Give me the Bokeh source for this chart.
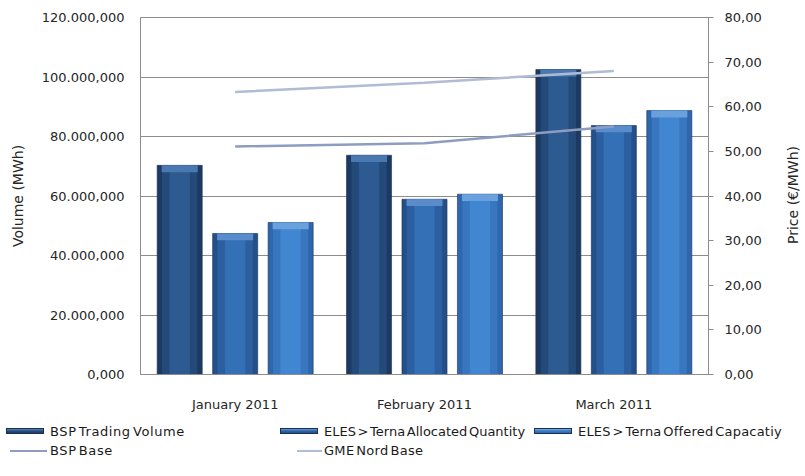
from bokeh.plotting import figure
from bokeh.layouts import column, row
from bokeh.models import (Range1d, LinearAxis, FixedTicker, ColumnDataSource,
                          FactorRange, Div)
from bokeh.transform import dodge
from bokeh.embed import file_html
from bokeh.resources import INLINE

# ---- data ----
months = ["January 2011", "February 2011", "March 2011"]
bsp_trading_volume = [70.3e6, 73.7e6, 102.5e6]
eles_allocated = [47.4e6, 58.9e6, 83.7e6]
eles_offered = [51.1e6, 60.6e6, 88.7e6]
bsp_base = [51.1, 51.8, 55.6]
gme_nord_base = [63.3, 65.4, 68.0]

vol_ticks = [0, 20e6, 40e6, 60e6, 80e6, 100e6, 120e6]
vol_tick_labels = ["0,000", "20.000,000", "40.000,000", "60.000,000",
                   "80.000,000", "100.000,000", "120.000,000"]
price_ticks = [0, 10, 20, 30, 40, 50, 60, 70, 80]
price_tick_labels = ["0,00", "10,00", "20,00", "30,00", "40,00",
                     "50,00", "60,00", "70,00", "80,00"]
series_names = ["BSP Trading Volume", "ELES > Terna Allocated Quantity",
                "ELES > Terna Offered Capacatiy", "BSP Base", "GME Nord Base"]
left_title = "Volume (MWh)"
right_title = "Price (€/MWh)"

FONT = "DejaVu Sans"
TXT = "#262626"
GRID = "#8c8c8c"

src = ColumnDataSource(dict(
    month=months, bsp=bsp_trading_volume, alloc=eles_allocated, offered=eles_offered,
    bsp_cap=[v - 2.3e6 for v in bsp_trading_volume],
    alloc_cap=[v - 2.3e6 for v in eles_allocated],
    offered_cap=[v - 2.3e6 for v in eles_offered],
    bspbase=bsp_base, gme=gme_nord_base,
))

p = figure(width=785, height=420, output_backend="svg", toolbar_location=None,
           x_range=FactorRange(*months, range_padding=0),
           y_range=Range1d(0, 120e6),
           min_border_left=140, min_border_right=77, min_border_top=17,
           min_border_bottom=46)
p.extra_y_ranges = {"price": Range1d(0, 80)}
p.outline_line_color = GRID
p.background_fill_color = "white"
p.border_fill_color = "white"

# grid
p.xgrid.grid_line_color = None
p.ygrid.grid_line_color = GRID
p.ygrid.ticker = FixedTicker(ticks=vol_ticks)

# left axis
ya = p.yaxis[0]
ya.ticker = FixedTicker(ticks=vol_ticks)
ya.major_label_overrides = {t: l for t, l in zip(vol_ticks, vol_tick_labels)}
ya.axis_line_color = None
ya.major_tick_line_color = None
ya.minor_tick_line_color = None
ya.major_label_standoff = 10
ya.major_label_text_font = FONT
ya.major_label_text_font_size = "13px"
ya.major_label_text_color = TXT
ya.axis_label = left_title
ya.axis_label_text_font = FONT
ya.axis_label_text_font_size = "14px"
ya.axis_label_text_font_style = "normal"
ya.axis_label_text_color = TXT
ya.axis_label_standoff = 13

# x axis
xa = p.xaxis[0]
xa.axis_line_color = GRID
xa.major_tick_line_color = None
xa.minor_tick_line_color = None
xa.major_label_standoff = 16
xa.major_label_text_font = FONT
xa.major_label_text_font_size = "13px"
xa.major_label_text_color = TXT

# right axis
ra = LinearAxis(y_range_name="price", ticker=FixedTicker(ticks=price_ticks))
ra.major_label_overrides = {t: l for t, l in zip(price_ticks, price_tick_labels)}
ra.axis_line_color = GRID
ra.major_tick_line_color = GRID
ra.major_tick_in = 0
ra.major_tick_out = 5
ra.minor_tick_line_color = None
ra.major_label_standoff = 11
ra.major_label_text_font = FONT
ra.major_label_text_font_size = "13px"
ra.major_label_text_color = TXT
p.add_layout(ra, "right")

# bars with cylinder-like shading
W = 0.238
OFF = 0.293
bar_specs = [
    ("bsp", "bsp_cap", -OFF, ["#1c3a61", "#244a7a", "#2d5a91"], "#4a78b0"),
    ("alloc", "alloc_cap", 0.0, ["#23508a", "#2b5fa0", "#3470b6"], "#5a8ccc"),
    ("offered", "offered_cap", OFF, ["#2e67ad", "#3876bf", "#4186d0"], "#6aa0dc"),
]
for col, capcol, off, shades, capc in bar_specs:
    xs = dodge("month", off, range=p.x_range)
    p.vbar(x=xs, top=col, width=W, source=src, fill_color=shades[0],
           line_color="#1a3050", line_width=0.6)
    p.vbar(x=xs, top=col, width=W * 0.78, source=src, fill_color=shades[1], line_color=None)
    p.vbar(x=xs, top=col, width=W * 0.45, source=src, fill_color=shades[2], line_color=None)
    p.vbar(x=xs, top=col, bottom=capcol, width=W * 0.8, source=src,
           fill_color=capc, line_color=None)

# price lines
LINE_BSP = "#8e9dbf"
LINE_GME = "#b0bbd4"
p.line(x="month", y="bspbase", source=src, y_range_name="price",
       line_color=LINE_BSP, line_width=2.5)
p.line(x="month", y="gme", source=src, y_range_name="price",
       line_color=LINE_GME, line_width=2.5)

# ---- legend as HTML strip ----
def swatch(left, top, c_light, c_mid, c_dark):
    return (f'<div style="position:absolute;left:{left}px;top:{top}px;width:38px;height:6px;'
            f'border:1px solid #1a3050;background:linear-gradient(to bottom,{c_light} 0%,'
            f'{c_mid} 45%,{c_dark} 100%);"></div>')


def line_sw(left, top, width, color):
    return (f'<div style="position:absolute;left:{left}px;top:{top}px;width:{width}px;'
            f'height:2px;background:{color};"></div>')


def label(left, top, text, ls):
    t = text.replace("&", "&amp;").replace(">", "&gt;").replace("<", "&lt;")
    return (f'<div style="position:absolute;left:{left}px;top:{top}px;line-height:16px;'
            f'white-space:nowrap;letter-spacing:{ls}px;word-spacing:-2.5px;">{t}</div>')


html = (f'<div style="position:relative;width:785px;height:52px;font-family:\'{FONT}\';'
        f'font-size:13px;color:#1a1a1a;overflow:hidden;">'
        + swatch(6, 8, "#5a86bd", "#2a5286", "#1c3a61") + label(50, 4, series_names[0], 0.6)
        + swatch(280, 8, "#6a9ad6", "#3066aa", "#23508a") + label(324, 4, series_names[1], 0.0)
        + swatch(534, 8, "#7aaee6", "#3d7dc6", "#2e67ad") + label(578, 4, series_names[2], 0.2)
        + line_sw(10, 30, 37, LINE_BSP) + label(50, 23, series_names[3], 0.6)
        + line_sw(297, 30, 25, LINE_GME) + label(324, 23, series_names[4], 0.3)
        + '</div>')
legend_div = Div(text=html, width=785, height=52, margin=0)

# ---- right axis title (rotated, reading bottom to top) ----
title_html = (f'<div style="position:relative;width:16px;height:420px;">'
              f'<div style="position:absolute;left:8px;top:195px;'
              f'transform:translate(-50%,-50%) rotate(-90deg);white-space:nowrap;'
              f'font-family:\'{FONT}\';font-size:14px;color:{TXT};">{right_title}</div></div>')
title_div = Div(text=title_html, width=16, height=420, margin=0)

layout = row(column(p, legend_div, spacing=0), title_div, spacing=0)
open("out.html", "w").write(file_html(layout, INLINE))
